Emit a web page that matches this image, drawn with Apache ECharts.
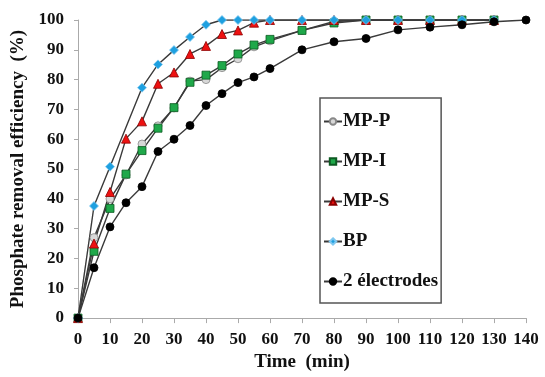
<!DOCTYPE html>
<html>
<head>
<meta charset="utf-8">
<script src="https://cdn.jsdelivr.net/npm/echarts@6/dist/echarts.min.js"></script>
<style>html,body{margin:0;padding:0;background:#fff;}#chart{width:545px;height:377px;}</style>
</head>
<body>
<div id="chart"></div>
<script>
const timesMain = [0,5,10,15,20,25,30,35,40,45,50,55,60,70,80,90,100,110,120,130];
const timesBP = [0,5,10,20,25,30,35,40,45,50,55,60,70,80,90,100,110,120,130];
const times2E = [0,5,10,15,20,25,30,35,40,45,50,55,60,70,80,90,100,110,120,130,140];
const mpP = [0,27,40,48,58.4,64.5,70.5,79.5,80,84,87,91,93,96.5,99.5,100,100,100,100,100];
const mpI = [0,22.4,36.8,48.3,56.2,63.7,70.6,79.1,81.5,84.7,88.6,91.6,93.5,96.5,99,100,100,100,100,100];
const mpS = [0,25,42.3,60.2,66,78.6,82.4,88.6,91.3,95.3,96.5,99.1,100,100,100,100,100,100,100,100];
const bp = [0,37.6,50.8,77.3,85.1,89.9,94.3,98.4,100,100,100,100,100,100,100,100,100,100,100];
const el2 = [0,16.9,30.6,38.7,44.1,55.9,60,64.6,71.3,75.3,79,80.9,83.7,90,92.7,93.8,96.7,97.6,98.4,99.4,100];
const seriesNames = ['MP-P','MP-I','MP-S','BP','2 électrodes'];
const xTicks = [0,10,20,30,40,50,60,70,80,90,100,110,120,130,140];

const zip = (t, v) => t.map((x, i) => [x, v[i]]);
const font = '"Liberation Serif", "Times New Roman", serif';
const lineStyle = { color: '#3a3a3a', width: 1.4 };

function mk(name, t, v, symbol, size, fill, border) {
  return {
    name, type: 'line', data: zip(t, v), symbol, symbolSize: size,
    lineStyle, itemStyle: { color: fill, borderColor: border, borderWidth: 0.8 },
    emphasis: { disabled: true }, animation: false
  };
}

const chart = echarts.init(document.getElementById('chart'));
chart.setOption({
  backgroundColor: '#fff',
  grid: { left: 78, right: 19, top: 20, bottom: 51 },
  legend: {
    data: seriesNames, orient: 'vertical', left: 320, top: 98,
    itemWidth: 18, itemHeight: 8, itemGap: 21,
    padding: [14, 3, 12, 3],
    borderColor: '#555', borderWidth: 1.5,
    textStyle: { fontFamily: font, fontWeight: 'bold', fontSize: 19, color: '#111', padding: [0,0,0,-4] }
  },
  xAxis: {
    type: 'value', min: 0, max: 140, interval: 10,
    name: 'Time  (min)', nameLocation: 'middle', nameGap: 34,
    nameTextStyle: { fontFamily: font, fontWeight: 'bold', fontSize: 19, color: '#111' },
    axisLine: { lineStyle: { color: '#aaa', width: 1 } },
    axisTick: { show: true, length: 5, lineStyle: { color: '#aaa' } },
    axisLabel: { fontFamily: font, fontWeight: 'bold', fontSize: 17, color: '#111', margin: 13,
      formatter: v => xTicks.includes(v) ? String(v) : '' },
    splitLine: { show: false }
  },
  yAxis: {
    type: 'value', min: 0, max: 100, interval: 10,
    name: 'Phosphate removal efficiency  (%)', nameLocation: 'middle', nameGap: 50,
    nameTextStyle: { fontFamily: font, fontWeight: 'bold', fontSize: 19, color: '#111' },
    axisLine: { show: true, lineStyle: { color: '#aaa', width: 1 } },
    axisTick: { show: true, length: 4, lineStyle: { color: '#aaa' } },
    axisLabel: { fontFamily: font, fontWeight: 'bold', fontSize: 17, color: '#111', margin: 14 },
    splitLine: { show: false }
  },
  series: [
    mk('MP-P', timesMain, mpP, 'circle', 8, '#d8d8d8', '#888'),
    mk('MP-I', timesMain, mpI, 'rect', 8, '#1fa84a', '#0d5a22'),
    mk('MP-S', timesMain, mpS, 'triangle', 9, '#ee1111', '#8a0000'),
    mk('BP', timesBP, bp, 'diamond', 9, '#1ea0e0', '#7fc8f0'),
    mk('2 électrodes', times2E, el2, 'circle', 8, '#000', '#000')
  ]
});
</script>
</body>
</html>
